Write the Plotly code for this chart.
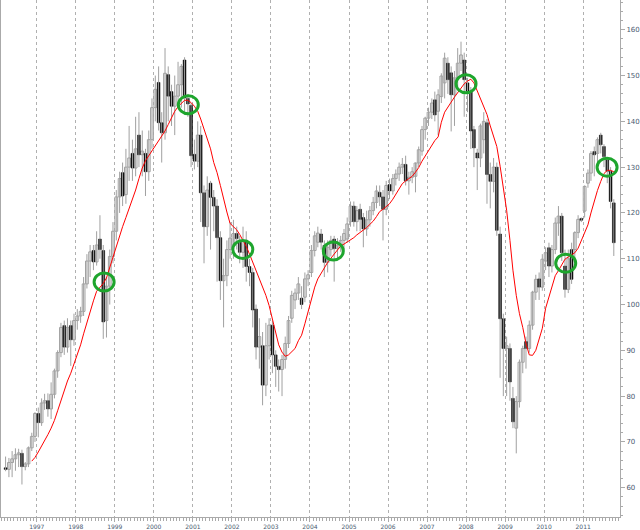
import pandas as pd
import plotly.graph_objects as go

# monthly bars, Mar 1996 .. Oct 2011 (one row per calendar year)
opens = [
    64.2, 64.0, 65.5, 66.3, 67.2, 67.5, 64.6, 65.2, 68.7, 71.2,
    76.2, 74.2, 78.5, 79.0, 77.2, 80.4, 85.5, 89.5, 95.4, 90.7, 95.4, 92.3,
    96.5, 97.5, 98.5, 104.5, 109.5, 111.8, 109.3, 114.3, 111.8, 96.5, 104.0, 110.5,
    116.0, 123.5, 128.8, 124.0, 130.0, 133.0, 129.8, 137.0, 132.7, 133.0, 129.0, 136.0,
    143.0, 148.5, 139.7, 137.5, 150.2, 146.5, 143.3, 145.5, 148.0, 153.4, 145.0, 143.5,
    132.8, 131.3, 137.0, 124.4, 117.0, 126.5, 123.4, 121.5, 114.6, 105.2, 106.3, 112.0,
    113.0, 115.5, 113.6, 111.4, 114.0, 108.3, 107.0, 99.0, 90.7, 91.0, 82.4, 91.0,
    95.5, 89.0, 86.5, 85.8, 88.0, 91.5, 97.0, 101.0, 102.5, 101.4, 101.6, 105.6,
    107.0, 111.8, 113.6, 115.4, 112.9, 109.2, 112.0, 114.3, 112.2, 113.0, 114.0, 114.3,
    118.1, 121.5, 118.1, 120.8, 119.0, 116.5, 118.5, 120.5, 122.3, 124.5, 123.5, 120.8,
    126.2, 124.8, 127.5, 128.5, 130.0, 130.6, 127.0, 127.8, 128.0, 130.9, 133.5, 138.2,
    140.7, 142.0, 144.7, 142.2, 145.4, 148.4, 152.7, 150.6, 145.8, 149.5, 152.7, 153.4,
    148.4, 146.6, 138.2, 133.1, 132.0, 136.0, 139.7, 128.4, 126.9, 130.0, 115.4, 96.9,
    90.4, 90.4, 79.5, 73.0, 78.8, 87.4, 91.9, 90.4, 95.5, 102.7, 105.6, 103.8,
    109.5, 112.4, 108.4, 112.0, 117.8, 119.3, 108.4, 103.3, 112.0, 112.0, 115.7, 118.8,
    120.4, 126.5, 128.7, 133.4, 133.0, 137.0, 134.5, 131.6, 129.1, 122.2,
]
highs = [
    66.8, 66.5, 68.0, 68.6, 68.5, 68.3, 65.6, 69.0, 72.0, 76.5,
    77.5, 79.5, 80.5, 80.6, 83.0, 86.0, 90.0, 96.0, 96.5, 97.0, 96.5, 98.0,
    99.0, 99.5, 106.0, 111.0, 113.0, 113.0, 116.0, 119.5, 113.0, 106.0, 112.0, 118.0,
    125.0, 129.0, 131.0, 134.0, 139.0, 136.0, 141.0, 142.0, 138.0, 134.0, 138.0, 145.0,
    150.0, 152.0, 142.0, 156.0, 152.0, 148.0, 150.0, 153.0, 152.5, 154.0, 146.0, 144.0,
    136.0, 140.0, 139.0, 126.0, 128.0, 127.0, 125.0, 123.0, 116.0, 110.0, 114.0, 118.0,
    118.5, 117.0, 115.0, 117.0, 116.0, 110.0, 108.0, 100.0, 97.0, 94.0, 96.0, 97.0,
    96.5, 90.0, 88.0, 89.0, 93.0, 97.5, 103.0, 103.5, 106.0, 104.0, 107.0, 107.5,
    113.0, 116.0, 117.0, 116.5, 114.0, 114.0, 115.0, 115.0, 114.5, 115.0, 116.5, 119.0,
    122.5, 122.5, 121.5, 122.0, 120.0, 120.5, 121.5, 123.5, 126.0, 126.0, 125.0, 127.0,
    127.5, 128.5, 129.5, 131.0, 132.0, 132.5, 129.0, 130.0, 131.0, 134.5, 139.0, 141.0,
    143.0, 145.0, 146.5, 147.0, 150.5, 155.0, 154.0, 152.0, 151.0, 156.0, 157.4, 155.0,
    149.5, 147.5, 139.0, 134.0, 139.5, 142.0, 140.5, 131.0, 132.0, 131.0, 117.0, 98.0,
    93.0, 91.5, 82.0, 80.0, 88.0, 91.0, 93.0, 96.5, 103.0, 106.5, 107.0, 111.0,
    112.5, 113.5, 113.0, 119.0, 121.5, 120.0, 112.0, 112.0, 113.5, 116.0, 119.5, 119.0,
    126.0, 129.5, 133.5, 134.5, 136.5, 137.5, 135.0, 132.0, 130.0, 123.0,
]
lows = [
    63.6, 62.3, 62.3, 63.7, 64.5, 60.7, 63.8, 64.5, 68.0, 70.0,
    71.0, 73.5, 77.0, 75.5, 75.0, 79.5, 84.0, 88.5, 89.0, 89.5, 86.6, 91.0,
    94.5, 96.0, 97.5, 103.5, 106.0, 107.5, 108.5, 110.0, 92.5, 92.8, 100.0, 109.0,
    114.0, 120.0, 121.5, 122.0, 127.0, 127.0, 128.0, 130.0, 128.0, 123.7, 127.0, 134.0,
    140.0, 138.0, 131.0, 136.0, 140.0, 139.0, 137.0, 143.0, 143.0, 142.0, 141.0, 130.0,
    129.5, 130.0, 118.0, 109.0, 115.0, 112.0, 116.0, 105.0, 101.0, 95.0, 104.0, 110.0,
    110.0, 112.0, 109.0, 108.0, 105.0, 104.0, 95.0, 88.0, 86.0, 78.0, 80.0, 88.0,
    85.0, 82.0, 81.0, 80.0, 86.0, 90.5, 96.0, 99.0, 101.0, 99.0, 100.5, 104.0,
    106.0, 110.5, 112.5, 112.0, 106.0, 107.0, 110.5, 105.0, 110.0, 111.5, 112.0, 113.5,
    117.0, 117.0, 116.0, 116.0, 112.5, 115.0, 117.0, 119.5, 121.0, 121.5, 114.0, 119.5,
    123.0, 124.0, 126.0, 127.0, 128.5, 126.0, 124.0, 126.5, 124.5, 130.0, 132.5, 136.0,
    139.0, 140.5, 140.0, 137.0, 144.0, 145.0, 146.0, 137.8, 139.0, 147.5, 151.0, 141.0,
    142.0, 134.0, 130.0, 125.0, 130.0, 133.0, 122.0, 121.0, 124.5, 115.0, 84.0, 80.0,
    80.0, 79.0, 73.0, 67.5, 77.5, 85.0, 86.0, 89.5, 94.5, 101.0, 101.0, 103.0,
    107.5, 106.0, 107.0, 111.0, 115.0, 109.5, 101.5, 102.5, 104.5, 108.0, 114.5, 118.0,
    119.0, 125.5, 127.0, 128.0, 131.0, 133.0, 130.0, 126.5, 121.0, 110.6,
]
closes = [
    64.0, 65.5, 66.3, 67.2, 67.6, 64.6, 65.2, 68.7, 71.2, 76.2,
    74.2, 78.5, 79.0, 77.2, 80.4, 85.5, 89.5, 95.0, 90.7, 95.0, 92.3, 96.5,
    97.5, 98.5, 104.5, 109.5, 111.5, 109.3, 113.0, 112.0, 96.2, 104.0, 110.5, 116.0,
    123.5, 127.5, 123.7, 130.0, 132.0, 129.8, 134.0, 132.7, 133.5, 129.0, 136.0, 143.0,
    147.0, 139.7, 137.5, 150.5, 145.5, 143.3, 145.5, 148.0, 152.0, 145.1, 143.8, 132.5,
    131.3, 137.0, 124.4, 117.0, 125.0, 123.4, 121.5, 114.6, 105.2, 106.3, 112.0, 114.5,
    115.5, 114.4, 111.4, 114.0, 108.3, 107.0, 98.8, 90.7, 93.0, 82.4, 91.0, 95.5,
    89.0, 86.5, 85.8, 88.0, 91.5, 96.5, 102.0, 102.5, 104.5, 100.0, 105.6, 106.5,
    111.8, 115.0, 115.6, 113.6, 109.2, 112.5, 114.0, 112.2, 113.0, 114.0, 115.5, 117.6,
    121.5, 118.1, 120.5, 118.6, 116.5, 118.5, 120.5, 122.3, 124.8, 123.5, 120.8, 126.0,
    124.8, 127.5, 128.5, 130.0, 130.6, 127.0, 127.8, 129.0, 130.9, 133.8, 138.2, 140.7,
    142.0, 144.0, 141.4, 145.8, 149.9, 153.8, 149.1, 145.8, 149.5, 152.7, 154.5, 149.1,
    146.6, 137.9, 134.2, 132.0, 139.0, 140.0, 128.4, 126.9, 130.0, 116.2, 96.9, 90.4,
    91.0, 83.1, 74.4, 78.8, 87.4, 90.4, 90.4, 95.5, 102.7, 105.5, 103.8, 109.9,
    111.3, 108.4, 112.0, 117.8, 119.3, 111.3, 103.3, 110.0, 105.5, 115.7, 118.6, 118.4,
    125.8, 128.7, 133.0, 132.7, 136.0, 134.9, 132.3, 129.1, 122.5, 113.5,
]

# red moving average as drawn, Nov 1996 .. Oct 2011
avg_line = [
    65.8, 66.6,
    67.8, 69.0, 70.3, 71.6, 73.0, 74.7, 76.8, 79.0, 81.4, 83.3, 85.0, 87.0,
    89.1, 91.2, 93.6, 96.2, 98.6, 100.8, 102.9, 103.8, 104.6, 105.8, 108.2, 110.5,
    112.7, 114.9, 117.0, 119.0, 120.9, 122.8, 125.0, 127.5, 129.8, 131.4, 132.5, 133.6,
    134.8, 135.8, 136.8, 137.9, 139.3, 140.8, 142.2, 143.2, 144.0, 144.6, 144.6, 144.1,
    143.3, 142.2, 140.5, 138.2, 136.1, 134.0, 131.0, 128.8, 126.0, 122.9, 120.2, 117.7,
    117.0, 116.3, 115.3, 114.0, 112.7, 111.0, 109.3, 107.3, 105.6, 104.0, 102.0, 99.8,
    96.8, 93.6, 91.2, 89.6, 88.7, 89.0, 89.7, 90.4, 92.1, 93.3, 95.8, 98.3,
    101.0, 103.8, 105.6, 106.9, 108.1, 109.2, 110.1, 111.0, 112.0, 112.8, 113.2, 113.6,
    114.1, 114.6, 115.2, 115.7, 116.2, 116.8, 117.5, 118.2, 119.2, 120.3, 120.8, 121.3,
    122.0, 123.0, 124.1, 125.3, 126.4, 127.0, 127.4, 128.0, 128.9, 129.9, 131.3, 132.5,
    133.7, 134.8, 135.8, 136.6, 139.8, 142.0, 143.2, 144.2, 145.3, 146.3, 147.3, 148.2,
    148.8, 149.2, 148.4, 146.6, 144.9, 143.2, 141.5, 139.0, 136.5, 134.5, 130.2, 125.5,
    120.6, 114.0, 107.5, 102.0, 98.0, 95.0, 91.5, 89.0, 88.9, 90.0, 92.2, 94.8,
    99.2, 101.8, 104.3, 106.3, 107.4, 108.6, 109.9, 110.4, 110.9, 111.3, 112.3, 113.9,
    115.6, 117.4, 120.0, 122.7, 124.9, 126.9, 128.6, 129.3, 129.3, 129.0,
]

# green marker circles
circle_dates = ["1998-09-23", "2000-11-19", "2002-04-13", "2004-08-07",
                "2008-01-01", "2010-07-22", "2011-08-13"]
circle_vals = [104.9, 143.6, 112.0, 111.7, 148.2, 109.0, 130.0]

months = pd.date_range("1996-03-01", periods=len(closes), freq="MS") + pd.Timedelta(days=14)
avg_months = months[len(months) - len(avg_line):]

# wicks as one broken line
wick_x, wick_y = [], []
for d, lo, hi in zip(months, lows, highs):
    wick_x += [d, d, None]
    wick_y += [lo, hi, None]

# bodies split into rising (hollow) and falling (filled)
up = [(d, o, c) for d, o, c in zip(months, opens, closes) if c >= o]
dn = [(d, o, c) for d, o, c in zip(months, opens, closes) if c < o]
body_w = 26 * 86400000

fig = go.Figure()
fig.add_trace(go.Scatter(x=wick_x, y=wick_y, mode="lines",
                         line=dict(color="#a0a0a0", width=1), hoverinfo="skip"))
fig.add_trace(go.Bar(
    x=[u[0] for u in up], base=[u[1] for u in up],
    y=[max(u[2] - u[1], 0.35) for u in up], width=body_w,
    marker=dict(color="white", line=dict(color="#a0a0a0", width=1)), hoverinfo="skip",
))
fig.add_trace(go.Bar(
    x=[u[0] for u in dn], base=[u[2] for u in dn],
    y=[max(u[1] - u[2], 0.35) for u in dn], width=body_w,
    marker=dict(color="black", line=dict(color="black", width=0.5)), hoverinfo="skip",
))
fig.add_trace(go.Scatter(x=avg_months, y=avg_line, mode="lines",
                         line=dict(color="#ff0000", width=1), hoverinfo="skip"))

for d, v in zip(circle_dates, circle_vals):
    fig.add_shape(type="circle", xref="x", yref="y",
                  xsizemode="pixel", ysizemode="pixel",
                  xanchor=d, yanchor=v, x0=-10, x1=10, y0=-9, y1=9,
                  line=dict(color="#1ea52d", width=3))

fig.update_layout(
    width=640, height=530,
    margin=dict(l=1, r=15, t=0, b=11),
    paper_bgcolor="white", plot_bgcolor="white",
    showlegend=False, barmode="overlay",
    font=dict(family="DejaVu Sans", size=7, color="#4a5a70"),
)
fig.update_xaxes(
    type="date", range=["1996-02-01", "2011-12-12"],
    tick0="1997-01-01", dtick="M12", tickformat="%Y",
    showgrid=True, gridcolor="#b0b0b0", griddash="dot", gridwidth=1,
    ticks="outside", ticklen=4, tickcolor="#aaaaaa",
    minor=dict(dtick="M1", ticks="outside", ticklen=3, tickcolor="#aaaaaa", showgrid=False),
    showline=True, linecolor="#aaaaaa", linewidth=1,
    tickfont=dict(size=6),
)
fig.update_yaxes(
    side="right", range=[53.6, 166.5], dtick=10,
    showgrid=False, zeroline=False,
    ticks="outside", ticklen=4, tickcolor="#aaaaaa",
    minor=dict(dtick=2, ticks="outside", ticklen=2, tickcolor="#aaaaaa"),
    showline=True, linecolor="#aaaaaa", linewidth=1, mirror=True,
    tickfont=dict(size=7),
)

fig.write_html("out.html", config={"displayModeBar": False},
               post_script="document.body.style.margin='0';document.body.style.overflow='hidden';")
